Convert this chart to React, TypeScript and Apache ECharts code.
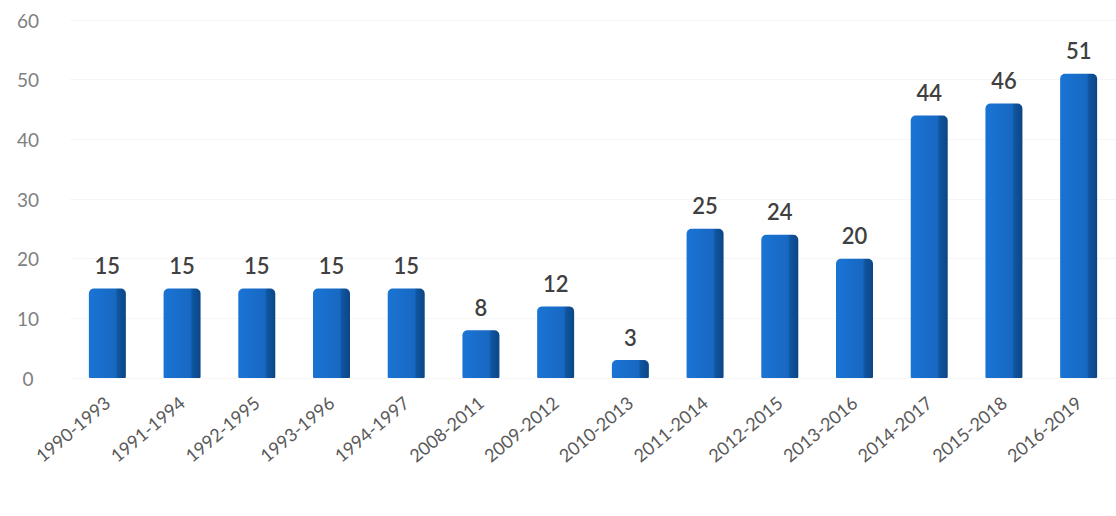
import React, { useEffect, useRef } from "react";
import * as echarts from "echarts";

const categories = [
  "1990-1993", "1991-1994", "1992-1995", "1993-1996", "1994-1997",
  "2008-2011", "2009-2012", "2010-2013", "2011-2014", "2012-2015",
  "2013-2016", "2014-2017", "2015-2018", "2016-2019",
];
const values = [15, 15, 15, 15, 15, 8, 12, 3, 25, 24, 20, 44, 46, 51];
const yTicks = { min: 0, max: 60, interval: 10 };

export default function App() {
  const ref = useRef<HTMLDivElement>(null);
  useEffect(() => {
    if (!ref.current) return;
    const chart = echarts.init(ref.current, null, { renderer: "svg" });
    chart.setOption({
      animation: false,
      backgroundColor: "#ffffff",
      grid: { left: 70, right: -20, top: 20, bottom: 138 },
      xAxis: {
        type: "category",
        data: categories,
        axisLine: { show: false },
        axisTick: { show: false },
        axisLabel: {
          rotate: 40,
          margin: 22,
          fontSize: 18,
          color: "#595959",
          fontFamily: "Lato",
          interval: 0,
        },
      },
      yAxis: {
        type: "value",
        min: yTicks.min,
        max: yTicks.max,
        interval: yTicks.interval,
        axisLine: { show: false },
        axisTick: { show: false },
        splitLine: { lineStyle: { color: "#f6f6f6", width: 1 } },
        axisLabel: {
          align: "center",
          margin: 42,
          fontSize: 19,
          color: "#808080",
          fontFamily: "Lato",
        },
      },
      series: [
        {
          type: "bar",
          data: values,
          barWidth: 37,
          itemStyle: {
            borderRadius: [5, 5, 1, 1],
            color: new echarts.graphic.LinearGradient(0, 0, 1, 0, [
              { offset: 0, color: "#1a74d4" },
              { offset: 0.72, color: "#1768c2" },
              { offset: 0.78, color: "#0f559f" },
              { offset: 1, color: "#0b4685" },
            ]),
          },
          label: {
            show: true,
            position: "top",
            distance: 12,
            fontSize: 22,
            fontWeight: 600,
            color: "#404040",
            fontFamily: "Lato",
          },
        },
      ],
    });
    return () => chart.dispose();
  }, []);
  return (
    <div
      ref={ref}
      style={{ position: "absolute", left: 0, top: 0, width: 1116, height: 516 }}
    />
  );
}
